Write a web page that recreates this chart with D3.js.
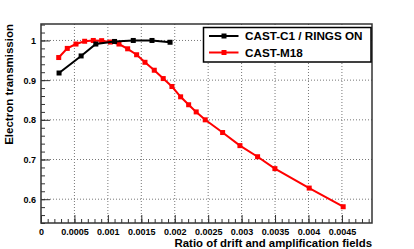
<!DOCTYPE html>
<html>
<head>
<meta charset="utf-8">
<script src="https://cdn.jsdelivr.net/npm/d3@7"></script>
<style>
  body { margin: 0; background: #fff; }
  svg { display: block; font-family: "Liberation Sans", Arial, sans-serif; font-weight: bold; }
</style>
</head>
<body>
<svg id="chart"></svg>
<script>
// CAST-C1 / RINGS ON
const c1X = [0.00027, 0.0006, 0.00082, 0.0011, 0.00138, 0.00166, 0.00193];
const c1Y = [0.918, 0.961, 0.991, 0.9975, 1.0, 1.0, 0.9955];

// CAST-M18
const m18X = [0.000265, 0.000393, 0.000523, 0.000653, 0.000782, 0.000907, 0.001037, 0.001166,
  0.001296, 0.00143, 0.001555, 0.001694, 0.001828, 0.001958, 0.002088, 0.002208, 0.002321,
  0.002456, 0.002716, 0.002975, 0.003239, 0.003498, 0.004011, 0.004519];
const m18Y = [0.957, 0.98, 0.991, 0.998, 1.0, 0.9995, 0.996, 0.991,
  0.979, 0.964, 0.945, 0.925, 0.904, 0.884, 0.858, 0.838, 0.82,
  0.8, 0.768, 0.735, 0.707, 0.677, 0.628, 0.581];

const xTicks = [0, 0.0005, 0.001, 0.0015, 0.002, 0.0025, 0.003, 0.0035, 0.004, 0.0045];
const xTickLabels = ['0', '0.0005', '0.001', '0.0015', '0.002', '0.0025', '0.003', '0.0035', '0.004', '0.0045'];
const yTicks = [0.6, 0.7, 0.8, 0.9, 1.0];
const yTickLabels = ['0.6', '0.7', '0.8', '0.9', '1'];

const seriesNames = ['CAST-C1 / RINGS ON', 'CAST-M18'];
const seriesColors = ['#000000', '#ff0000'];

const W = 414, H = 249;
const margin = { top: 24, right: 42, bottom: 26, left: 41 };
const width = W - margin.left - margin.right;
const height = H - margin.top - margin.bottom;

const svg = d3.select('#chart').attr('width', W).attr('height', H);
const g = svg.append('g').attr('transform', `translate(${margin.left},${margin.top})`);

const x = d3.scaleLinear().domain([0, 0.00495]).range([0, width]);
const y = d3.scaleLinear().domain([0.54, 1.0415]).range([height, 0]);

// grid
g.append('g').selectAll('line').data(xTicks.slice(1)).join('line')
  .attr('x1', d => x(d)).attr('x2', d => x(d))
  .attr('y1', 0).attr('y2', height)
  .attr('stroke', '#777').attr('stroke-width', 1).attr('stroke-dasharray', '1,2');
g.append('g').selectAll('line').data(yTicks).join('line')
  .attr('x1', 0).attr('x2', width)
  .attr('y1', d => y(d)).attr('y2', d => y(d))
  .attr('stroke', '#777').attr('stroke-width', 1).attr('stroke-dasharray', '1,2');

// axes with inward ticks
const xMinor = d3.range(0, 0.00495, 0.0001);
const yMinor = d3.range(0.54, 1.0415, 0.02);

const xAxisMinor = d3.axisBottom(x).tickValues(xMinor).tickSize(-4).tickFormat('');
const xAxis = d3.axisBottom(x).tickValues(xTicks).tickSize(-8).tickPadding(6)
  .tickFormat((d, i) => xTickLabels[i]);
const yAxisMinor = d3.axisLeft(y).tickValues(yMinor).tickSize(-4).tickFormat('');
const yAxis = d3.axisLeft(y).tickValues(yTicks).tickSize(-9).tickPadding(5)
  .tickFormat((d, i) => yTickLabels[i]);

g.append('g').attr('transform', `translate(0,${height})`).call(xAxisMinor);
g.append('g').attr('transform', `translate(0,${height})`).call(xAxis);
g.append('g').call(yAxisMinor);
g.append('g').call(yAxis);

g.selectAll('.domain').remove();
g.selectAll('.tick line').attr('stroke', '#333');
g.selectAll('.tick text').attr('fill', '#000').attr('font-size', 9)
  .attr('font-family', '"Liberation Sans", Arial, sans-serif').attr('font-weight', 'bold');

// frame
g.append('rect').attr('width', width).attr('height', height)
  .attr('fill', 'none').attr('stroke', '#333').attr('stroke-width', 1.5);

// series
const line = d3.line().x(d => x(d[0])).y(d => y(d[1]));
const series = [
  d3.zip(m18X, m18Y),
  d3.zip(c1X, c1Y)
];
const drawOrder = [1, 0];

series.forEach((pts, k) => {
  const col = seriesColors[drawOrder[k]];
  g.append('path').datum(pts)
    .attr('d', line).attr('fill', 'none')
    .attr('stroke', col).attr('stroke-width', 2);
  g.append('g').selectAll('rect').data(pts).join('rect')
    .attr('x', d => x(d[0]) - 2.5).attr('y', d => y(d[1]) - 2.5)
    .attr('width', 5).attr('height', 5).attr('fill', col);
});

// axis titles
svg.append('text')
  .attr('x', margin.left + width).attr('y', 247)
  .attr('text-anchor', 'end').attr('font-size', 11.4)
  .text('Ratio of drift and amplification fields');

svg.append('text')
  .attr('transform', `translate(12.7,${margin.top}) rotate(-90)`)
  .attr('text-anchor', 'end').attr('font-size', 11.5)
  .text('Electron transmission');

// legend
const leg = svg.append('g');
leg.append('rect').attr('x', 203.5).attr('y', 27.5).attr('width', 167.5).attr('height', 34.5)
  .attr('fill', '#fff').attr('stroke', '#000').attr('stroke-width', 1.5);

seriesNames.forEach((name, i) => {
  const ly = 36 + i * 16.5;
  leg.append('line').attr('x1', 209).attr('x2', 238.5).attr('y1', ly).attr('y2', ly)
    .attr('stroke', seriesColors[i]).attr('stroke-width', 2);
  leg.append('rect').attr('x', 221.5).attr('y', ly - 2.5).attr('width', 5).attr('height', 5)
    .attr('fill', seriesColors[i]);
  leg.append('text').attr('x', 245).attr('y', ly + 4.2)
    .attr('font-size', 11.7).text(name);
});
</script>
</body>
</html>
